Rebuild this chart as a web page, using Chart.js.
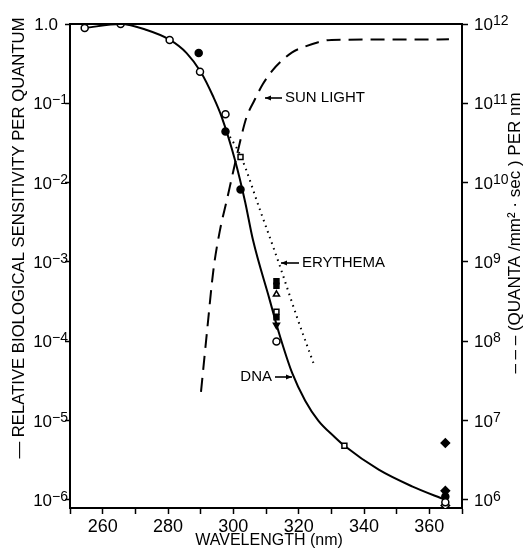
<!DOCTYPE html>
<html>
<head>
<meta charset="utf-8">
<script src="https://cdn.jsdelivr.net/npm/chart.js@4.4.1/dist/chart.umd.min.js"></script>
<style>
  html, body { margin: 0; padding: 0; background: #fff; }
  #wrap { width: 524px; height: 549px; }
</style>
</head>
<body>
<div id="wrap"><canvas id="chart" width="524" height="549"></canvas></div>
<script>
// wavelength in nm; sensitivity relative (left axis); sunlight in quanta/(mm2 sec) per nm (right axis)
const dnaWl   = [254.5, 265.5, 273.5, 280.6, 285.7, 290, 293.9, 296.4, 300.5, 303.6, 306, 311, 314, 318, 322, 326, 331, 334, 344.5, 354.7, 364.9];
const dnaSens = [0.89, 1.0, 0.84, 0.63, 0.43, 0.25, 0.12, 0.068, 0.0193, 0.00575, 0.0019, 3.47e-4, 1.26e-4, 3.98e-5, 1.78e-5, 1.0e-5, 6.2e-6, 4.8e-6, 2.4e-6, 1.48e-6, 1.0e-6];

const sunWl     = [290.1, 292, 293.9, 295.9, 298, 300, 302, 304, 306.5, 309, 312, 315, 318, 322, 326, 330, 366];
const sunQuanta = [2.3e7, 1.4e8, 7.9e8, 2.5e9, 6.0e9, 1.4e10, 3.2e10, 6.6e10, 1.1e11, 1.74e11, 2.6e11, 3.5e11, 4.4e11, 5.2e11, 5.9e11, 6.3e11, 6.4e11];

const eryWl   = [298, 302.3, 308.2, 314, 319.5, 322.9, 324.6];
const erySens = [0.044, 0.0214, 0.00447, 9.5e-4, 2.0e-4, 8.1e-5, 5.2e-5];

// measured points
const openCircleWl  = [254.5, 265.5, 280.5, 289.8, 297.6, 313.2, 364.9];
const openCircleVal = [0.89, 1.0, 0.63, 0.25, 0.073, 9.9e-5, 9.3e-7];
const fullCircleWl  = [289.4, 297.6, 302.2, 364.9];
const fullCircleVal = [0.43, 0.044, 0.0082, 1.1e-6];
const openSquareWl  = [302.2, 313.2, 334];
const openSquareVal = [0.021, 2.35e-4, 4.8e-6];
const fullSquareWl  = [313.2, 313.2, 313.2];
const fullSquareVal = [5.7e-4, 5.0e-4, 2.0e-4];
const openTriWl  = [313.2];
const openTriVal = [3.9e-4];
const fullTriWl  = [313.2];
const fullTriVal = [1.6e-4];
const fullDiamondWl  = [364.9, 364.9];
const fullDiamondVal = [5.2e-6, 1.3e-6];
const openDiamondWl  = [364.9];
const openDiamondVal = [8.5e-7];

const leftTicks    = [1, 1e-1, 1e-2, 1e-3, 1e-4, 1e-5, 1e-6];
const leftTickBase = ['1.0', '10', '10', '10', '10', '10', '10'];
const leftTickSup  = ['', '\u22121', '\u22122', '\u22123', '\u22124', '\u22125', '\u22126'];
const rightTicks   = [1e12, 1e11, 1e10, 1e9, 1e8, 1e7, 1e6];
const rightTickSup = ['12', '11', '10', '9', '8', '7', '6'];

const FONT = '"Liberation Sans", Arial, sans-serif';

function pts(xs, ys) {
    return xs.map((x, i) => ({ x: x, y: ys[i] }));
}

function markers(xs, ys, style, filled, rot) {
    return {
        data: pts(xs, ys),
        showLine: false,
        pointStyle: style,
        pointRadius: style === 'rectRot' ? 4.2 : 3.5,
        pointRotation: rot || 0,
        pointBorderWidth: 1.5,
        pointBorderColor: '#000',
        pointBackgroundColor: filled ? '#000' : '#fff',
        yAxisID: 'y'
    };
}

function drawSup(ctx, base, sup, x, y, alignLeft) {
    ctx.font = '17px ' + FONT;
    const wb = ctx.measureText(base).width;
    ctx.font = '14px ' + FONT;
    const ws = sup ? ctx.measureText(sup).width : 0;
    const left = alignLeft ? x : x - wb - ws;
    ctx.textAlign = 'left';
    ctx.textBaseline = 'alphabetic';
    ctx.font = '17px ' + FONT;
    ctx.fillText(base, left, y + 6);
    if (sup) {
        ctx.font = '14px ' + FONT;
        ctx.fillText(sup, left + wb, y + 1);
    }
}

function arrow(ctx, tail, tip, y) {
    ctx.beginPath();
    ctx.moveTo(tail, y);
    ctx.lineTo(tip, y);
    ctx.lineWidth = 1.6;
    ctx.stroke();
    const d = tip < tail ? 1 : -1;
    ctx.beginPath();
    ctx.moveTo(tip, y);
    ctx.lineTo(tip + 6 * d, y - 2.5);
    ctx.lineTo(tip + 6 * d, y + 2.5);
    ctx.closePath();
    ctx.fill();
}

const decor = {
    id: 'decor',
    afterDraw(chart) {
        const ctx = chart.ctx;
        const a = chart.chartArea;
        const y = chart.scales.y;
        const y2 = chart.scales.y2;
        ctx.save();
        ctx.fillStyle = '#000';
        ctx.strokeStyle = '#000';

        // top frame line
        ctx.beginPath();
        ctx.moveTo(a.left - 1, a.top);
        ctx.lineTo(a.right + 1, a.top);
        ctx.lineWidth = 2;
        ctx.stroke();

        // left tick labels
        leftTicks.forEach((v, i) => {
            const py = y.getPixelForValue(v);
            const right = leftTickSup[i] ? a.left - 2 : a.left - 12;
            drawSup(ctx, leftTickBase[i], leftTickSup[i], right, py, false);
        });
        // right tick labels
        rightTicks.forEach((v, i) => {
            const py = y2.getPixelForValue(v);
            drawSup(ctx, '10', rightTickSup[i], a.right + 12, py, true);
        });

        // axis titles
        ctx.textAlign = 'center';
        ctx.textBaseline = 'middle';
        ctx.font = '16px ' + FONT;
        ctx.fillText('WAVELENGTH (nm)', 269, 541);

        ctx.save();
        ctx.translate(19, 238);
        ctx.rotate(-Math.PI / 2);
        ctx.font = '16.7px ' + FONT;
        ctx.fillText('\u2014 RELATIVE BIOLOGICAL SENSITIVITY PER QUANTUM', 0, 0);
        ctx.restore();

        ctx.save();
        ctx.translate(515, 233);
        ctx.rotate(-Math.PI / 2);
        ctx.font = '17px ' + FONT;
        ctx.fillText('\u2013 \u2013 \u2013 (QUANTA /mm\u00b2 \u00b7 sec ) PER nm', 0, 0);
        ctx.restore();

        // curve labels
        ctx.font = '15px ' + FONT;
        ctx.textBaseline = 'middle';
        ctx.textAlign = 'left';
        ctx.fillText('SUN LIGHT', 285, 98);
        arrow(ctx, 282, 265, 98);
        ctx.fillText('ERYTHEMA', 302, 263);
        arrow(ctx, 299, 281, 263);
        ctx.textAlign = 'right';
        ctx.fillText('DNA', 272, 377);
        arrow(ctx, 275, 292, 377);
        ctx.restore();
    }
};

new Chart(document.getElementById('chart'), {
    type: 'scatter',
    data: {
        datasets: [
            markers(openCircleWl, openCircleVal, 'circle', false),
            markers(fullCircleWl, fullCircleVal, 'circle', true),
            markers(openSquareWl, openSquareVal, 'rect', false),
            markers(fullSquareWl, fullSquareVal, 'rect', true),
            markers(openTriWl, openTriVal, 'triangle', false),
            markers(fullTriWl, fullTriVal, 'triangle', true, 180),
            markers(fullDiamondWl, fullDiamondVal, 'rectRot', true),
            markers(openDiamondWl, openDiamondVal, 'rectRot', false),
            {
                label: 'DNA',
                data: pts(dnaWl, dnaSens),
                showLine: true,
                borderColor: '#000',
                borderWidth: 2,
                pointRadius: 0,
                cubicInterpolationMode: 'monotone',
                yAxisID: 'y'
            },
            {
                label: 'Erythema',
                data: pts(eryWl, erySens),
                showLine: true,
                borderColor: '#000',
                borderWidth: 2,
                borderDash: [1.5, 4.5],
                pointRadius: 0,
                cubicInterpolationMode: 'monotone',
                yAxisID: 'y'
            },
            {
                label: 'Sun light',
                data: pts(sunWl, sunQuanta),
                showLine: true,
                borderColor: '#000',
                borderWidth: 2,
                borderDash: [14, 8],
                pointRadius: 0,
                cubicInterpolationMode: 'monotone',
                yAxisID: 'y2'
            }
        ]
    },
    options: {
        responsive: false,
        animation: false,
        devicePixelRatio: 1,
        layout: { padding: { top: 24, left: 0, right: 0, bottom: 0 } },
        plugins: { legend: { display: false }, tooltip: { enabled: false } },
        scales: {
            x: {
                type: 'linear',
                min: 250,
                max: 370,
                afterFit: s => { s.height = 41; },
                border: { color: '#000', width: 2 },
                grid: { drawOnChartArea: false, tickLength: 6, tickColor: '#000', tickWidth: 1.5 },
                ticks: {
                    stepSize: 10,
                    autoSkip: false,
                    maxRotation: 0,
                    padding: 2,
                    color: '#000',
                    font: { family: FONT, size: 18 },
                    callback: v => (v % 20 === 0 ? String(v) : '')
                }
            },
            y: {
                type: 'logarithmic',
                position: 'left',
                min: 7.89e-7,
                max: 1,
                afterFit: s => { s.width = 70; },
                afterBuildTicks: s => { s.ticks = leftTicks.map(v => ({ value: v })); },
                border: { color: '#000', width: 2 },
                grid: { drawOnChartArea: false, tickLength: 5, tickColor: '#000', tickWidth: 1.5 },
                ticks: { callback: () => '' }
            },
            y2: {
                type: 'logarithmic',
                position: 'right',
                min: 7.89e5,
                max: 1e12,
                afterFit: s => { s.width = 62; },
                afterBuildTicks: s => { s.ticks = rightTicks.map(v => ({ value: v })); },
                border: { color: '#000', width: 2 },
                grid: { drawOnChartArea: false, tickLength: 6, tickColor: '#000', tickWidth: 1.5 },
                ticks: { callback: () => '' }
            }
        }
    },
    plugins: [decor]
});
</script>
</body>
</html>
